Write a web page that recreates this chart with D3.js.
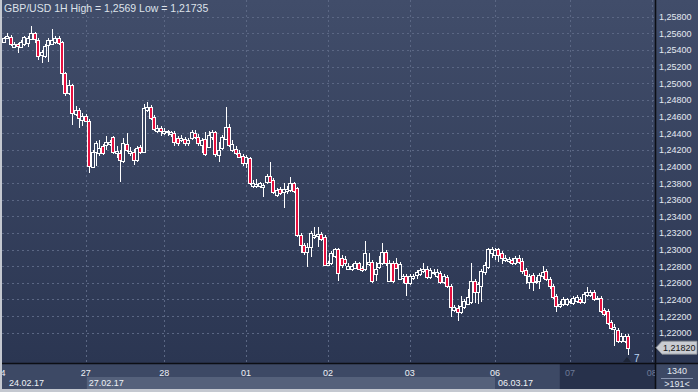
<!DOCTYPE html>
<html><head><meta charset="utf-8">
<script src="https://cdn.jsdelivr.net/npm/d3@7"></script>
<style>html,body{margin:0;padding:0;background:#c4c8d0;overflow:hidden}svg{display:block}</style>
</head><body>
<svg id="c" width="698" height="392"></svg>
<script>
const titleText = "GBP/USD 1H High = 1,2569 Low = 1,21735";
const open = [1.25496,1.25544,1.25556,1.25436,1.25472,1.25436,1.25472,1.25484,1.25532,1.25604,
1.25520,1.25340,1.25328,1.25460,1.25472,1.25496,1.25544,1.25496,1.25124,1.24884,
1.24980,1.24632,1.24680,1.24560,1.24608,1.24548,1.23996,1.24176,1.24164,1.24248,
1.24260,1.24272,1.24356,1.24164,1.24164,1.24068,1.24272,1.24164,1.24176,1.24080,
1.24236,1.24176,1.24680,1.24716,1.24596,1.24428,1.24464,1.24404,1.24416,1.24392,
1.24404,1.24344,1.24320,1.24332,1.24284,1.24344,1.24404,1.24356,1.24260,1.24332,
1.24236,1.24356,1.24416,1.24140,1.24224,1.24332,1.24476,1.24200,1.24212,1.24164,
1.24128,1.24044,1.24104,1.23768,1.23768,1.23768,1.23756,1.23816,1.23888,1.23840,
1.23660,1.23732,1.23696,1.23708,1.23720,1.23804,1.23744,1.23180,1.23060,1.22976,
1.23036,1.23156,1.23168,1.23192,1.23156,1.22820,1.22844,1.22928,1.23012,1.22904,
1.22892,1.22772,1.22760,1.22784,1.22844,1.22784,1.22760,1.22832,1.22856,1.22700,
1.22796,1.22844,1.22976,1.22616,1.22844,1.22844,1.22640,1.22652,1.22676,1.22592,
1.22652,1.22688,1.22700,1.22736,1.22772,1.22664,1.22724,1.22676,1.22712,1.22604,
1.22664,1.22556,1.22268,1.22292,1.22244,1.22304,1.22340,1.22364,1.22616,1.22484,
1.22556,1.22724,1.22796,1.22964,1.22940,1.23012,1.22964,1.22880,1.22868,1.22880,
1.22844,1.22904,1.22868,1.22748,1.22604,1.22688,1.22604,1.22616,1.22676,1.22736,
1.22640,1.22556,1.22436,1.22316,1.22340,1.22340,1.22364,1.22352,1.22376,1.22400,
1.22364,1.22448,1.22448,1.22484,1.22400,1.22412,1.22268,1.22256,1.22124,1.22040,
1.22028,1.21896,1.21896,1.21956];
const high = [1.25556,1.25604,1.25580,1.25496,1.25484,1.25520,1.25568,1.25568,1.25690,1.25616,
1.25544,1.25400,1.25472,1.25544,1.25652,1.25568,1.25568,1.25508,1.25136,1.25040,
1.24992,1.24728,1.24704,1.24644,1.24632,1.24572,1.24200,1.24308,1.24320,1.24272,
1.24368,1.24320,1.24368,1.24248,1.24200,1.24344,1.24404,1.24236,1.24212,1.24248,
1.24260,1.24752,1.24776,1.24740,1.24620,1.24500,1.24488,1.24464,1.24440,1.24428,
1.24428,1.24368,1.24380,1.24356,1.24344,1.24440,1.24440,1.24392,1.24344,1.24416,
1.24428,1.24440,1.24428,1.24296,1.24380,1.24716,1.24512,1.24320,1.24248,1.24200,
1.24152,1.24140,1.24116,1.23840,1.23852,1.23816,1.23804,1.23912,1.24056,1.23864,
1.23744,1.23756,1.23804,1.23768,1.23876,1.23816,1.23756,1.23204,1.23084,1.23084,
1.23228,1.23276,1.23276,1.23216,1.23180,1.22868,1.22988,1.23024,1.23024,1.22940,
1.22928,1.22844,1.22832,1.22868,1.22856,1.22808,1.23108,1.22964,1.22880,1.22856,
1.22928,1.23084,1.23000,1.22880,1.22868,1.22904,1.22856,1.22700,1.22700,1.22700,
1.22700,1.22748,1.22784,1.22844,1.22808,1.22784,1.22772,1.22760,1.22736,1.22700,
1.22688,1.22580,1.22328,1.22328,1.22436,1.22400,1.22520,1.22844,1.22640,1.22604,
1.22760,1.22856,1.23024,1.23036,1.23024,1.23024,1.22988,1.22940,1.22916,1.22904,
1.22928,1.22940,1.22904,1.22784,1.22700,1.22712,1.22664,1.22712,1.22808,1.22760,
1.22664,1.22580,1.22460,1.22376,1.22424,1.22412,1.22400,1.22436,1.22448,1.22424,
1.22484,1.22544,1.22508,1.22508,1.22436,1.22436,1.22292,1.22280,1.22148,1.22100,
1.22052,1.21992,1.21980,1.21980];
const low = [1.25484,1.25532,1.25448,1.25424,1.25364,1.25424,1.25448,1.25436,1.25520,1.25484,
1.25280,1.25244,1.25304,1.25256,1.25460,1.25472,1.25460,1.24980,1.24848,1.24860,
1.24500,1.24608,1.24464,1.24488,1.24536,1.23924,1.23984,1.24008,1.24128,1.24140,
1.24200,1.24248,1.24152,1.24104,1.23816,1.24044,1.24176,1.24128,1.24020,1.24056,
1.24152,1.24164,1.24656,1.24560,1.24428,1.24404,1.24368,1.24380,1.24368,1.24356,
1.24248,1.24248,1.24296,1.24248,1.24248,1.24320,1.24332,1.24248,1.24164,1.24128,
1.24224,1.24320,1.24116,1.24056,1.24200,1.24320,1.24236,1.24176,1.24140,1.24104,
1.24008,1.23984,1.23780,1.23744,1.23744,1.23744,1.23636,1.23792,1.23804,1.23672,
1.23636,1.23660,1.23504,1.23672,1.23696,1.23684,1.23156,1.22964,1.22940,1.22796,
1.22916,1.23132,1.23036,1.23108,1.22808,1.22808,1.22820,1.22904,1.22616,1.22784,
1.22808,1.22748,1.22736,1.22760,1.22748,1.22724,1.22736,1.22808,1.22592,1.22616,
1.22772,1.22820,1.22808,1.22604,1.22592,1.22760,1.22628,1.22592,1.22436,1.22568,
1.22628,1.22640,1.22676,1.22712,1.22640,1.22640,1.22688,1.22652,1.22580,1.22580,
1.22532,1.22184,1.22244,1.22136,1.22220,1.22280,1.22340,1.22340,1.22352,1.22340,
1.22364,1.22688,1.22760,1.22904,1.22880,1.22856,1.22832,1.22856,1.22844,1.22820,
1.22820,1.22832,1.22700,1.22580,1.22520,1.22496,1.22580,1.22520,1.22640,1.22616,
1.22520,1.22400,1.22244,1.22292,1.22316,1.22316,1.22340,1.22328,1.22352,1.22340,
1.22340,1.22424,1.22424,1.22376,1.22388,1.22232,1.22196,1.22088,1.22028,1.21836,
1.21872,1.21872,1.21872,1.21735];
const close = [1.25544,1.25568,1.25472,1.25472,1.25448,1.25496,1.25556,1.25544,1.25604,1.25532,
1.25328,1.25376,1.25448,1.25520,1.25520,1.25544,1.25484,1.25124,1.24884,1.24980,
1.24644,1.24680,1.24584,1.24608,1.24548,1.24008,1.24176,1.24284,1.24224,1.24164,
1.24296,1.24296,1.24176,1.24188,1.24080,1.24284,1.24200,1.24188,1.24080,1.24224,
1.24176,1.24704,1.24716,1.24584,1.24452,1.24464,1.24428,1.24428,1.24428,1.24416,
1.24296,1.24284,1.24344,1.24284,1.24320,1.24416,1.24356,1.24284,1.24320,1.24152,
1.24380,1.24416,1.24152,1.24200,1.24356,1.24476,1.24260,1.24272,1.24164,1.24116,
1.24044,1.24116,1.23804,1.23804,1.23792,1.23804,1.23780,1.23888,1.23816,1.23696,
1.23720,1.23684,1.23732,1.23732,1.23804,1.23708,1.23180,1.23060,1.22976,1.23036,
1.23204,1.23180,1.23192,1.23132,1.22820,1.22844,1.22964,1.23012,1.22712,1.22820,
1.22844,1.22808,1.22808,1.22844,1.22760,1.22748,1.22964,1.22856,1.22616,1.22760,
1.22844,1.22976,1.22844,1.22844,1.22616,1.22784,1.22832,1.22676,1.22592,1.22676,
1.22676,1.22724,1.22748,1.22760,1.22664,1.22748,1.22712,1.22724,1.22604,1.22676,
1.22556,1.22304,1.22304,1.22244,1.22316,1.22376,1.22424,1.22616,1.22484,1.22580,
1.22736,1.22820,1.23012,1.23012,1.23000,1.22940,1.22904,1.22904,1.22892,1.22844,
1.22904,1.22856,1.22736,1.22688,1.22676,1.22604,1.22616,1.22688,1.22724,1.22640,
1.22556,1.22424,1.22316,1.22340,1.22400,1.22400,1.22376,1.22412,1.22424,1.22364,
1.22460,1.22484,1.22484,1.22400,1.22412,1.22256,1.22220,1.22112,1.22052,1.22064,
1.21896,1.21956,1.21956,1.21820];
const yTicks = [1.258,1.256,1.254,1.252,1.250,1.248,1.246,1.244,1.242,1.240,1.238,1.236,1.234,1.232,1.230,1.228,1.226,1.224,1.222,1.220];
const dayTickIndex = [-1,24,47,71,95,119,144,166,190];
const dayTickLabels = ["24","27","28","01","02","03","06","07","08"];
const dateBandIndex = [-1,24,144];
const dateBandLabels = ["24.02.17","27.02.17","06.03.17"];
const futureIndex = 163;
const lastPrice = 1.21820;
const barsLabel = "1340";
const countLabel = ">191<";
const timerLabel = "7";

const svg = d3.select("#c");
const W = 698, H = 392;
const pl = 2, pr = 655, pt = 0, pb = 363;
const x = d3.scaleLinear().domain([0, 183]).range([4, 628]);
const y = d3.scaleLinear().domain([1.220, 1.258]).range([332.7, 16.7]);
const FONT = "'Liberation Sans', Arial, sans-serif";

const defs = svg.append("defs");
const g1 = defs.append("linearGradient").attr("id","bg").attr("gradientUnits","userSpaceOnUse")
  .attr("x1",0).attr("y1",0).attr("x2",0).attr("y2",363);
g1.append("stop").attr("offset","0").attr("stop-color","#414d6a");
g1.append("stop").attr("offset","1").attr("stop-color","#2b3652");
defs.append("clipPath").attr("id","plotclip").append("rect")
  .attr("x",pl).attr("y",pt).attr("width",pr-pl).attr("height",pb-pt);

// outer border
svg.append("rect").attr("width",W).attr("height",H).attr("fill","#c4c8d0");
// plot + right panel background
svg.append("rect").attr("x",pl).attr("y",0).attr("width",W-pl).attr("height",pb).attr("fill","url(#bg)");
// bottom axis area
svg.append("rect").attr("x",pl).attr("y",pb).attr("width",W-pl).attr("height",389-pb).attr("fill","#3d4965");
// date band
svg.append("rect").attr("x",x(dateBandIndex[1])+1).attr("y",377).attr("width",x(dateBandIndex[2])-x(dateBandIndex[1])-1).attr("height",12).attr("fill","#55617b");
// future box
svg.append("rect").attr("x",x(futureIndex)).attr("y",pb).attr("width",pr-x(futureIndex)).attr("height",389-pb).attr("fill","#27314b");

// grid
const grid = svg.append("g").attr("clip-path","url(#plotclip)");
grid.selectAll("line.h").data(yTicks).join("line")
  .attr("x1",pl).attr("x2",pr).attr("y1",d=>Math.round(y(d))+0.5).attr("y2",d=>Math.round(y(d))+0.5)
  .attr("stroke","#5b6784").attr("stroke-width",1).attr("stroke-dasharray","2,3");
grid.selectAll("line.v").data(dayTickIndex).join("line")
  .attr("x1",d=>Math.round(x(d))+0.5).attr("x2",d=>Math.round(x(d))+0.5).attr("y1",pt).attr("y2",pb)
  .attr("stroke","#5b6784").attr("stroke-width",1).attr("stroke-dasharray","2,3");

// candles
const data = open.map((o,i)=>({i,o,h:high[i],l:low[i],c:close[i]}));
const cg = svg.append("g").attr("clip-path","url(#plotclip)");
const cand = cg.selectAll("g").data(data).join("g");
cand.append("line")
  .attr("x1",d=>Math.round(x(d.i))+0.5).attr("x2",d=>Math.round(x(d.i))+0.5)
  .attr("y1",d=>Math.round(y(d.h))).attr("y2",d=>Math.round(y(d.l)))
  .attr("stroke","#ffffff").attr("stroke-width",1);
cand.append("rect")
  .attr("x",d=>Math.round(x(d.i))-1.5)
  .attr("y",d=>Math.round(y(Math.max(d.o,d.c)))+0.5)
  .attr("width",3)
  .attr("height",d=>Math.max(1,Math.round(y(Math.min(d.o,d.c)))-Math.round(y(Math.max(d.o,d.c)))))
  .attr("fill",d=>d.c<d.o?"#e5103f":"url(#bg)")
  .attr("stroke","#ffffff").attr("stroke-width",1);

// axis lines
svg.append("line").attr("x1",pl).attr("x2",W).attr("y1",363.5).attr("y2",363.5).attr("stroke","#0c0e14").attr("stroke-width",1.6);
svg.append("line").attr("x1",655.5).attr("x2",655.5).attr("y1",0).attr("y2",389).attr("stroke","#0c0e14").attr("stroke-width",1.6);

// title
svg.append("text").attr("x",4).attr("y",11.5).attr("font-family",FONT).attr("font-size",10.5)
  .attr("fill","#dde2ea").text(titleText);

// y labels
const fmt = d => d3.format(".5f")(d).replace(".",",");
svg.append("g").selectAll("text").data(yTicks).join("text")
  .attr("x",659).attr("y",d=>y(d)+3.5).attr("font-family",FONT).attr("font-size",9)
  .attr("fill","#e4e9f2").text(fmt);

// last price tag
const ly = y(lastPrice);
svg.append("path").attr("d",`M656,${ly} L662,${ly-6.5} L697,${ly-6.5} L697,${ly+6.5} L662,${ly+6.5} Z`)
  .attr("fill","#c9ccd2").attr("stroke","#8b8f96").attr("stroke-width",0.8);
svg.append("text").attr("x",663).attr("y",ly+3.5).attr("font-family",FONT).attr("font-size",9)
  .attr("fill","#151515").text(fmt(lastPrice));

// timer marker
const lastIdx = close.length-1;
svg.append("path").attr("d",`M${x(lastIdx)-5},362 L${x(lastIdx)-1},357 L${x(lastIdx)+3},362 Z`).attr("fill","#1e2638");
svg.append("text").attr("x",x(lastIdx)+6).attr("y",361.5).attr("font-family",FONT).attr("font-size",10)
  .attr("fill","#bcd6f4").text(timerLabel);

// x labels
const xl = svg.append("g").attr("clip-path","url(#axclip)");
defs.append("clipPath").attr("id","axclip").append("rect").attr("x",pl).attr("y",pb).attr("width",pr-pl).attr("height",30);
xl.selectAll("text").data(dayTickIndex).join("text")
  .attr("x",d=>x(d)).attr("y",375.5).attr("text-anchor","middle").attr("font-family",FONT).attr("font-size",9)
  .attr("fill",d=>d>=futureIndex?"#6e7b97":"#eef1f6").text((d,i)=>dayTickLabels[i]);
xl.selectAll("text.d").data(dateBandIndex).join("text").attr("class","d")
  .attr("x",d=>Math.max(x(d),pl)+ (d<0?7:3)).attr("y",386).attr("font-family",FONT).attr("font-size",9)
  .attr("fill","#eef1f6").text((d,i)=>dateBandLabels[i]);

// bottom right box
svg.append("text").attr("x",677).attr("y",374).attr("text-anchor","middle").attr("font-family",FONT).attr("font-size",9)
  .attr("fill","#e4e9f2").text(barsLabel);
svg.append("line").attr("x1",661).attr("x2",693).attr("y1",378.5).attr("y2",378.5).attr("stroke","#8a96b0").attr("stroke-width",1);
svg.append("text").attr("x",677).attr("y",386.5).attr("text-anchor","middle").attr("font-family",FONT).attr("font-size",9)
  .attr("fill","#e4e9f2").text(countLabel);
</script>
</body></html>
